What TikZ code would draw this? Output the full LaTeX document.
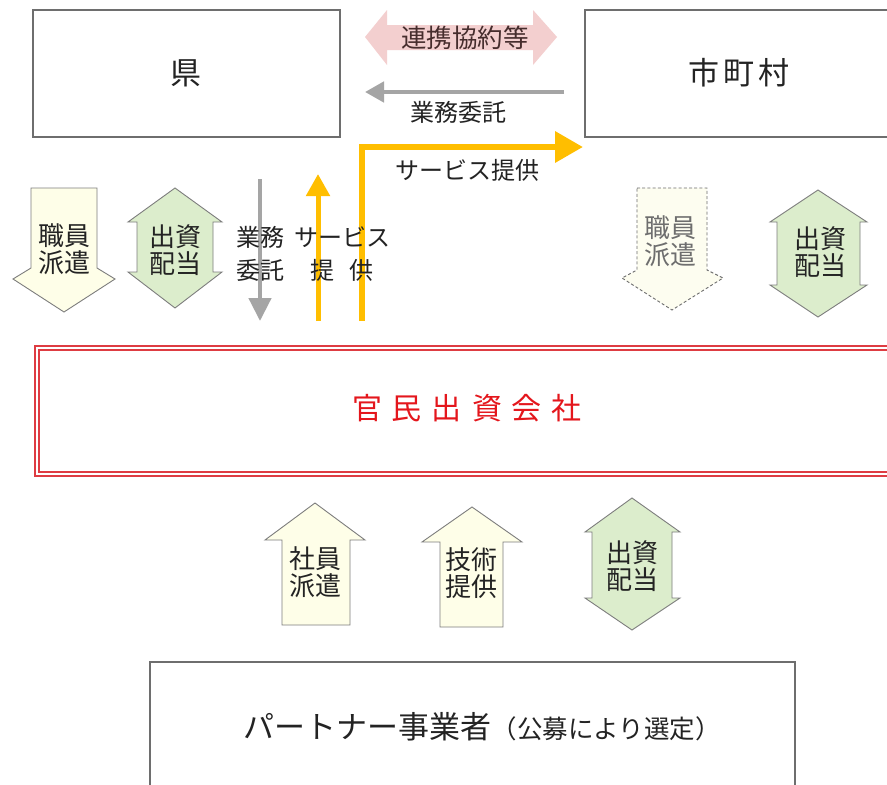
\documentclass[tikz,border=0pt]{standalone}
\usepackage{fontspec}
\setmainfont{Noto Sans CJK JP}
\usetikzlibrary{arrows.meta}
\definecolor{boxgray}{RGB}{110,110,110}
\definecolor{txt}{RGB}{35,35,35}
\definecolor{outl}{RGB}{125,125,125}
\definecolor{creamc}{RGB}{254,254,232}
\definecolor{dashc}{RGB}{253,253,240}
\definecolor{greenc}{RGB}{220,237,204}
\definecolor{pinkc}{RGB}{243,207,207}
\definecolor{pinktxt}{RGB}{70,45,45}
\definecolor{grayarr}{RGB}{165,165,165}
\definecolor{gold}{RGB}{255,190,0}
\definecolor{redline}{RGB}{222,60,66}
\definecolor{redtxt}{RGB}{228,22,28}
\tikzset{
  box/.style={draw=boxgray, line width=1.3pt, fill=white, inner sep=0pt},
  bigtxt/.style={font=\fontsize{31}{34}\selectfont, text=txt, inner sep=0pt},
  lbl/.style={font=\fontsize{24}{33}\selectfont, text=txt, align=center, inner sep=0pt},
  arrlbl/.style={font=\fontsize{26}{27}\selectfont, text=txt, align=center, inner sep=0pt},
  blockarrow/.style={draw=outl, line width=0.9pt, line join=miter},
  creamarrow/.style={blockarrow, fill=creamc},
  greenarrow/.style={blockarrow, fill=greenc},
  dasharrow/.style={draw=boxgray, line width=0.9pt, dash pattern=on 3pt off 2.2pt, fill=dashc},
  grayline/.style={draw=grayarr, line width=4.5pt, -{Triangle[length=19pt,width=20pt]}},
  goldline/.style={draw=gold, line width=6.5pt, -{Triangle[length=28pt,width=30pt]}},
  goldthin/.style={draw=gold, line width=5pt, -{Triangle[length=22pt,width=23pt]}},
  redrect/.style={draw=redline, line width=1.6pt},
}
\begin{document}
\begin{tikzpicture}[x=1pt,y=-1pt]
\useasboundingbox (0,0) rectangle (887,785);
\clip (0,0) rectangle (887,785);
\fill[white] (0,0) rectangle (887,785);

% main boxes
\node[box, minimum width=307pt, minimum height=127pt] (kenbox) at (186.5,73.5) {};
\node[bigtxt] (ken) at (186,73) {県};
\node[box, minimum width=308pt, minimum height=127pt] (shibox) at (739,73.5) {};
\node[bigtxt] (shi) at (739,73) {市\kern4pt 町\kern4pt 村};
\node[inner sep=0pt, minimum width=866pt, minimum height=130pt] (kanmin) at (468,411) {};
\draw[redrect] (kanmin.north west) rectangle (kanmin.south east);
\draw[redrect] ([xshift=4pt,yshift=-4pt]kanmin.north west) rectangle ([xshift=-4pt,yshift=4pt]kanmin.south east);
\node[font=\fontsize{30}{34}\selectfont, text=redtxt, inner sep=0pt] (kanmintxt) at (467,408) {官\kern10pt 民\kern10pt 出\kern10pt 資\kern10pt 会\kern10pt 社};
\node[box, minimum width=645pt, minimum height=140pt] (partner) at (472.5,732) {};
\node[text=txt, inner sep=0pt] (partnertxt) at (482,727) {\fontsize{31}{34}\selectfont パートナー事業者\fontsize{25.5}{30}\selectfont （公募により選定）};

% pink double arrow
\fill[pinkc] (365,37) -- (387,10) -- (387,25) -- (533,25) -- (533,10) -- (557,37) -- (533,65) -- (533,50) -- (387,50) -- (387,65) -- cycle;
\node[font=\fontsize{25.5}{28}\selectfont, text=pinktxt, inner sep=0pt] (renkei) at (465,38) {連携協約等};

% gray horizontal arrow
\coordinate (g1s) at (564,92);
\coordinate (g1e) at (365,92);
\draw[grayline] (g1s) -- (g1e);
\node[lbl] (gyomu1) at (458,112) {業務委託};

% gold L arrow
\coordinate (ys) at (362,321);
\coordinate (ye) at (583,147);
\draw[goldline, line join=miter] (ys) |- (ye);
\node[lbl] (svc1) at (467,170) {サービス提供};

% small vertical arrows
\coordinate (gds) at (260,179);
\coordinate (gde) at (260,321);
\draw[draw=grayarr, line width=4.5pt, -{Triangle[length=23pt,width=22pt]}] (gds) -- (gde);
\coordinate (yus) at (318,321);
\coordinate (yue) at (318,174);
\draw[goldthin] (yus) -- (yue);
\node[lbl] (gyomu2) at (260,254) {業務\\委託};
\node[lbl] (svc2) at (342,254) {サービス\\提\hspace{0.6em}供};

% left block arrows
\filldraw[creamarrow] (31,188) -- (97,188) -- (97,268) -- (115,279) -- (64,312) -- (13,279) -- (31,268) -- cycle;
\node[arrlbl] (haken1) at (64,249) {職員\\派遣};
\filldraw[greenarrow] (175,188) -- (222,222) -- (213,222) -- (213,272) -- (222,272) -- (175,308) -- (128,272) -- (137,272) -- (137,222) -- (128,222) -- cycle;
\node[arrlbl] (shishi1) at (175,250) {出資\\配当};

% right block arrows
\filldraw[dasharrow] (637,188) -- (707,188) -- (707,270) -- (723,278) -- (672,310) -- (622,278) -- (637,270) -- cycle;
\node[arrlbl, text=boxgray] (haken2) at (670,241) {職員\\派遣};
\filldraw[greenarrow] (818,190) -- (867,222) -- (860,222) -- (860,285) -- (867,285) -- (818,317) -- (770,285) -- (777,285) -- (777,222) -- (770,222) -- cycle;
\node[arrlbl] (shishi2) at (820,252) {出資\\配当};

% bottom block arrows
\filldraw[creamarrow] (315,503) -- (365,540) -- (350,540) -- (350,625) -- (282,625) -- (282,540) -- (265,540) -- cycle;
\node[arrlbl] (shain) at (315,572) {社員\\派遣};
\filldraw[creamarrow] (472,507) -- (522,542) -- (503,542) -- (503,627) -- (440,627) -- (440,542) -- (422,542) -- cycle;
\node[arrlbl] (gijutsu) at (471,573) {技術\\提供};
\filldraw[greenarrow] (632,498) -- (680,532) -- (672,532) -- (672,598) -- (680,598) -- (632,630) -- (585,598) -- (592,598) -- (592,532) -- (585,532) -- cycle;
\node[arrlbl] (shishi3) at (632,566) {出資\\配当};
\end{tikzpicture}
\end{document}
